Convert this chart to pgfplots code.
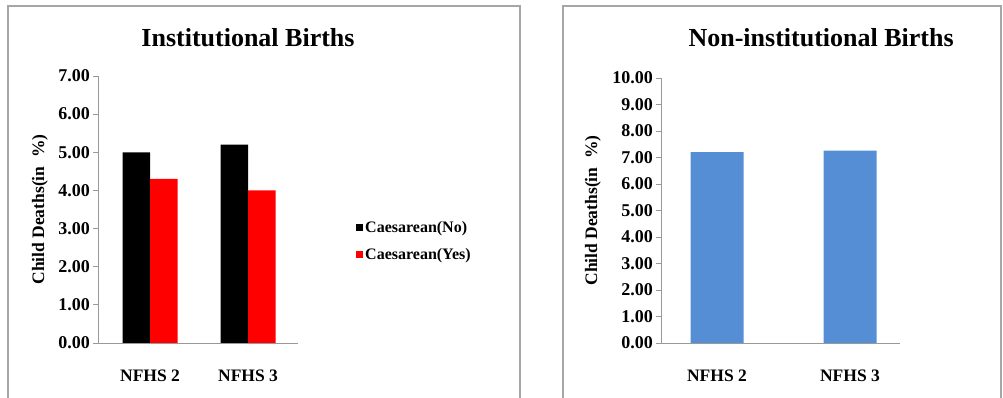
\documentclass[border=0pt]{standalone}
\usepackage{fontspec}
\setmainfont{Liberation Serif}
\usepackage{pgfplots}
\pgfplotsset{compat=1.18}
\definecolor{barblue}{HTML}{558ED5}
\definecolor{framegray}{HTML}{A6A6A6}
\definecolor{axisgray}{HTML}{999999}
\pgfplotsset{
  panel/.style={
    scale only axis,
    axis x line*=bottom, axis y line*=left,
    axis line style={-,draw=axisgray,line width=0.9pt},
    ymin=0,
    tick align=outside,
    major tick length=5pt,
    ytick style={draw=axisgray,line width=0.9pt},
    xtick style={draw=none},
    xtick={0,1}, xticklabels={NFHS 2,NFHS 3},
    xticklabel style={font=\fontsize{17.5}{17.5}\selectfont\bfseries, yshift=-18pt},
    yticklabel style={font=\fontsize{18}{18}\selectfont\bfseries, inner xsep=3pt,
      /pgf/number format/fixed, /pgf/number format/fixed zerofill,
      /pgf/number format/precision=2, /pgf/number format/assume math mode=true},
    ylabel={Child Deaths(in\ \ \%)},
    ylabel style={font=\fontsize{17.5}{17.5}\selectfont\bfseries, anchor=center},
    title style={font=\fontsize{26}{26}\selectfont\bfseries, anchor=center},
  }
}
\begin{document}
\begin{tikzpicture}
\useasboundingbox (0pt,0pt) rectangle (1003pt,398pt);
\draw[framegray,line width=1.2pt] (8pt,0pt) -- (8pt,392pt) -- (520pt,392pt) -- (520pt,0pt);
\draw[framegray,line width=1.2pt] (563pt,0pt) -- (563pt,392pt) -- (1001pt,392pt) -- (1001pt,0pt);

\begin{axis}[panel,
  at={(98pt,55pt)}, anchor=south west,
  width=200pt, height=267pt,
  xmin=-0.531, xmax=1.51,
  ymax=7, ytick={0,1,...,7},
  ybar=0pt, bar width=27.5pt,
  ylabel style={at={(axis description cs:-0.29,0.5)}},
  title={Institutional Births},
  title style={at={(axis description cs:0.75,1)}, yshift=32pt},
  legend style={at={(axis description cs:1.29,0.382)}, anchor=west, draw=none, fill=none,
    font=\fontsize{16}{16}\selectfont\bfseries, row sep=10pt, inner sep=0pt,
    nodes={inner sep=2pt}},
  legend cell align=left,
  legend image code/.code={\draw[#1,draw=none] (0pt,-3.5pt) rectangle (7pt,3.5pt);},
]
\addplot[fill=black, draw=none] coordinates {(0,5.0) (1,5.2)};
\addplot[fill=red, draw=none] coordinates {(0,4.3) (1,4.0)};
\legend{Caesarean(No),Caesarean(Yes)}
\end{axis}

\begin{axis}[panel,
  at={(661pt,55pt)}, anchor=south west,
  width=239pt, height=265pt,
  xmin=-0.421, xmax=1.376,
  ymax=10, ytick={0,1,...,10},
  ybar, bar width=53pt,
  ylabel style={at={(axis description cs:-0.285,0.5)}},
  title={Non-institutional Births},
  title style={at={(axis description cs:0.67,1)}, yshift=34pt},
]
\addplot[fill=barblue, draw=none] coordinates {(0,7.2) (1,7.26)};
\end{axis}
\end{tikzpicture}
\end{document}
